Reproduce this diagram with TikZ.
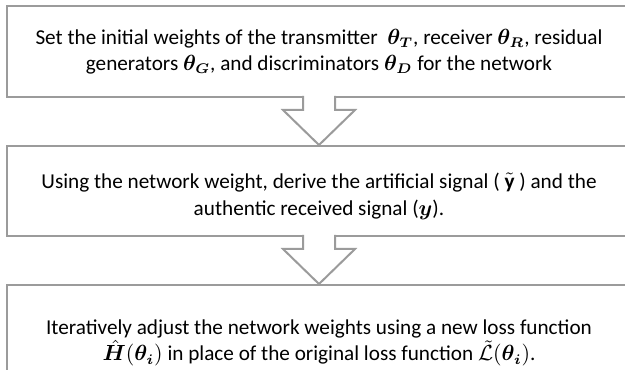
\documentclass[tikz,border=0pt]{standalone}
\usepackage{amsmath,bm}
\usepackage{fontspec}
\setmainfont{Carlito}
\usetikzlibrary{positioning,calc}

\definecolor{boxgray}{RGB}{155,155,155}

\tikzset{
  stepbox/.style={draw=boxgray, line width=1pt, fill=white, align=center,
    minimum width=312pt, font=\fontsize{10.6}{13.2}\selectfont},
  flowarrow/.style={draw=boxgray, line width=1pt, line join=miter}
}

\begin{document}
\begin{tikzpicture}[x=0.5pt, y=0.5pt, node distance=23.5pt]
  \useasboundingbox (0,0) rectangle (625,369);

  % The three steps, top to bottom.
  \node[stepbox, minimum height=45.5pt] (box1) at (319,317.5)
    {Set the initial weights of the transmitter \ $\bm{\theta_T}$, receiver $\bm{\theta_R}$, residual\\
     generators $\bm{\theta_G}$, and discriminators $\bm{\theta_D}$ for the network};
  \node[stepbox, minimum height=45pt, below=of box1] (box2)
    {\rule{0pt}{13pt}Using the network weight, derive the artificial signal ( $\tilde{\mathbf{y}}$ ) and the\\
     authentic received signal ($\bm{y}$).};
  \node[stepbox, minimum height=58pt, below=of box2] (box3)
    {Iteratively adjust the network weights using a new loss function\\
     $\hat{\bm{H}}(\bm{\theta_i})$ in place of the original loss function $\tilde{\mathcal{L}}(\bm{\theta_i})$.};

  % Hollow block arrows, open into the box above.
  \foreach \a/\b in {box1/box2, box2/box3} {
    \path (\a.south) coordinate (s) (\b.north) coordinate (t);
    \fill[white] ($(s)+(-16,-1)$) -- ($(s)+(-16,-12)$) -- ($(s)+(-36,-12)$) -- (t)
      -- ($(s)+(36,-12)$) -- ($(s)+(16,-12)$) -- ($(s)+(16,3)$) -- ($(s)+(-16,3)$) -- cycle;
    \draw[flowarrow] ($(s)+(-16,2)$) -- ($(s)+(-16,-12)$) -- ($(s)+(-36,-12)$) -- (t)
      -- ($(s)+(36,-12)$) -- ($(s)+(16,-12)$) -- ($(s)+(16,2)$);
  }
\end{tikzpicture}
\end{document}
